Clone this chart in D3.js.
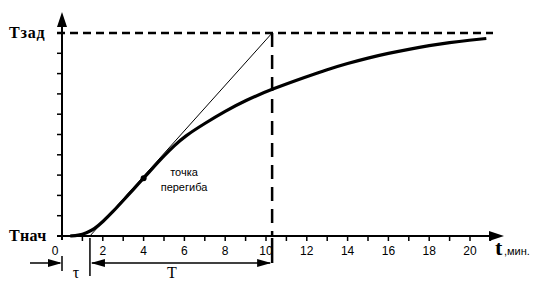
<!DOCTYPE html>
<html>
<head>
<meta charset="utf-8">
<script src="https://cdnjs.cloudflare.com/ajax/libs/d3/7.8.5/d3.min.js"></script>
<style>
body { margin:0; background:#fff; }
svg { display:block; }
</style>
</head>
<body>
<div id="chart"></div>
<script>
// transient response, time in minutes, value as share of (Tзад - Тнач)
var curveT = [0.4, 0.8, 1.2, 1.6, 2.0, 2.5, 3.0, 3.5, 4.0, 4.5, 5.0, 5.5, 6.0, 7.0, 8.0, 9.0, 10.3, 12, 13, 14, 15, 16, 17, 18, 19, 20, 20.8];
var curveV = [0, 0.003, 0.015, 0.035, 0.07, 0.12, 0.175, 0.23, 0.285, 0.34, 0.395, 0.445, 0.49, 0.555, 0.615, 0.668, 0.724, 0.785, 0.82, 0.85, 0.877, 0.9, 0.92, 0.938, 0.953, 0.965, 0.973];
var tangentT = [1.37, 10.3];
var tangentV = [0, 1];
var inflT = 4.0, inflV = 0.285;
var tau = 1.37, Tend = 10.3;
var xTicks = [1,2,3,4,5,6,7,8,9,10,11,12,13,14,15,16,17,18,19,20,21];
var xLabels = [0,2,4,6,8,10,12,14,16,18,20];
var yTicks = [0.1,0.2,0.3,0.4,0.5,0.6,0.7,0.8,0.9];

var W = 537, H = 282;
var svg = d3.select("#chart").append("svg")
  .attr("width", W).attr("height", H);

var x = d3.scaleLinear().domain([0, 21]).range([62, 490.4]);
var y = d3.scaleLinear().domain([0, 1]).range([236, 33]);

// y axis
svg.append("line")
  .attr("x1", x(0)).attr("x2", x(0))
  .attr("y1", y(0) + 4).attr("y2", 22)
  .attr("stroke", "#000").attr("stroke-width", 2);
svg.append("path")
  .attr("d", "M" + x(0) + ",12 L" + (x(0) - 5) + ",27 L" + (x(0) + 5) + ",27 Z")
  .attr("fill", "#000");
svg.selectAll(".ytick")
  .data(yTicks)
  .enter().append("line")
  .attr("x1", x(0) - 5).attr("x2", x(0))
  .attr("y1", function(d){ return y(d); })
  .attr("y2", function(d){ return y(d); })
  .attr("stroke", "#000").attr("stroke-width", 1.5);

// x axis
svg.append("line")
  .attr("x1", 57).attr("x2", 494)
  .attr("y1", y(0)).attr("y2", y(0))
  .attr("stroke", "#000").attr("stroke-width", 2);
svg.append("path")
  .attr("d", "M504," + y(0) + " L489," + (y(0) - 5) + " L489," + (y(0) + 5) + " Z")
  .attr("fill", "#000");
svg.selectAll(".xtick")
  .data(xTicks)
  .enter().append("line")
  .attr("x1", function(d){ return x(d); })
  .attr("x2", function(d){ return x(d); })
  .attr("y1", y(0)).attr("y2", y(0) + 5)
  .attr("stroke", "#000").attr("stroke-width", 1.5);
svg.selectAll(".xlab")
  .data(xLabels)
  .enter().append("text")
  .attr("x", function(d){ return d == 0 ? x(0) - 7 : x(d); })
  .attr("y", 255)
  .attr("text-anchor", "middle")
  .style("font-family", "Arial, 'Liberation Sans', sans-serif")
  .style("font-size", "12px")
  .text(function(d){ return d; });

svg.append("text")
  .attr("x", 495).attr("y", 255)
  .style("font-family", "'Liberation Serif', serif")
  .style("font-weight", "bold")
  .style("font-size", "22px")
  .text("t");
svg.append("text")
  .attr("x", 504).attr("y", 255)
  .style("font-family", "Arial, 'Liberation Sans', sans-serif")
  .style("font-size", "11px")
  .text(",мин.");

// level labels
svg.append("text")
  .attr("x", 9).attr("y", y(1) + 5)
  .style("font-family", "'Liberation Serif', serif")
  .style("font-weight", "bold")
  .style("font-size", "16px")
  .style("letter-spacing", "0.8px")
  .text("Tзад");
svg.append("text")
  .attr("x", 9).attr("y", y(0) + 5)
  .style("font-family", "'Liberation Serif', serif")
  .style("font-weight", "bold")
  .style("font-size", "16px")
  .style("letter-spacing", "0.3px")
  .text("Tнач");

// dashed lines
svg.append("line")
  .attr("x1", 57).attr("x2", 493)
  .attr("y1", y(1)).attr("y2", y(1))
  .attr("stroke", "#000").attr("stroke-width", 2.5)
  .attr("stroke-dasharray", "8,5");
svg.append("line")
  .attr("x1", x(Tend)).attr("x2", x(Tend))
  .attr("y1", y(1)).attr("y2", y(0))
  .attr("stroke", "#000").attr("stroke-width", 2.5)
  .attr("stroke-dasharray", "14,8");

// tangent
var pts = tangentT.map(function(t, i){ return [t, tangentV[i]]; });
svg.append("path")
  .datum(pts)
  .attr("d", d3.line().x(function(d){ return x(d[0]); }).y(function(d){ return y(d[1]); }))
  .attr("fill", "none").attr("stroke", "#000").attr("stroke-width", 1);

// curve
var cpts = curveT.map(function(t, i){ return [t, curveV[i]]; });
svg.append("path")
  .datum(cpts)
  .attr("d", d3.line().curve(d3.curveBasis)
    .x(function(d){ return x(d[0]); }).y(function(d){ return y(d[1]); }))
  .attr("fill", "none").attr("stroke", "#000").attr("stroke-width", 3.2);

svg.append("circle")
  .attr("cx", x(inflT)).attr("cy", y(inflV)).attr("r", 3)
  .attr("fill", "#000");

svg.append("text")
  .attr("x", 184).attr("y", 176)
  .attr("text-anchor", "middle")
  .style("font-family", "Arial, 'Liberation Sans', sans-serif")
  .style("font-size", "11px")
  .text("точка");
svg.append("text")
  .attr("x", 184).attr("y", 191)
  .attr("text-anchor", "middle")
  .style("font-family", "Arial, 'Liberation Sans', sans-serif")
  .style("font-size", "11px")
  .text("перегиба");

// tau and T arrows
var ay = 263;
svg.append("line").attr("x1", 30).attr("x2", x(0) - 2).attr("y1", ay).attr("y2", ay)
  .attr("stroke", "#000").attr("stroke-width", 1.5);
svg.append("path")
  .attr("d", "M" + x(0) + "," + ay + " L" + (x(0) - 14) + "," + (ay - 4) + " L" + (x(0) - 14) + "," + (ay + 4) + " Z")
  .attr("fill", "#000");
svg.append("line").attr("x1", x(0)).attr("x2", x(0)).attr("y1", 256).attr("y2", 271)
  .attr("stroke", "#000").attr("stroke-width", 1.5);
svg.append("line").attr("x1", x(tau)).attr("x2", x(tau)).attr("y1", 238).attr("y2", 276)
  .attr("stroke", "#000").attr("stroke-width", 1.5);
svg.append("line").attr("x1", x(tau) + 2).attr("x2", x(Tend) - 2).attr("y1", ay).attr("y2", ay)
  .attr("stroke", "#000").attr("stroke-width", 1.5);
svg.append("path")
  .attr("d", "M" + (x(tau) + 1) + "," + ay + " L" + (x(tau) + 15) + "," + (ay - 4) + " L" + (x(tau) + 15) + "," + (ay + 4) + " Z")
  .attr("fill", "#000");
svg.append("path")
  .attr("d", "M" + (x(Tend) - 1) + "," + ay + " L" + (x(Tend) - 15) + "," + (ay - 4) + " L" + (x(Tend) - 15) + "," + (ay + 4) + " Z")
  .attr("fill", "#000");
svg.append("line").attr("x1", x(Tend)).attr("x2", x(Tend)).attr("y1", 238).attr("y2", ay)
  .attr("stroke", "#000").attr("stroke-width", 2.5);

svg.append("text")
  .attr("x", 76).attr("y", 278)
  .attr("text-anchor", "middle")
  .style("font-family", "'Liberation Serif', serif")
  .style("font-size", "16px")
  .text("τ");
svg.append("text")
  .attr("x", 172).attr("y", 278)
  .attr("text-anchor", "middle")
  .style("font-family", "'Liberation Serif', serif")
  .style("font-size", "16px")
  .text("T");
</script>
</body>
</html>
